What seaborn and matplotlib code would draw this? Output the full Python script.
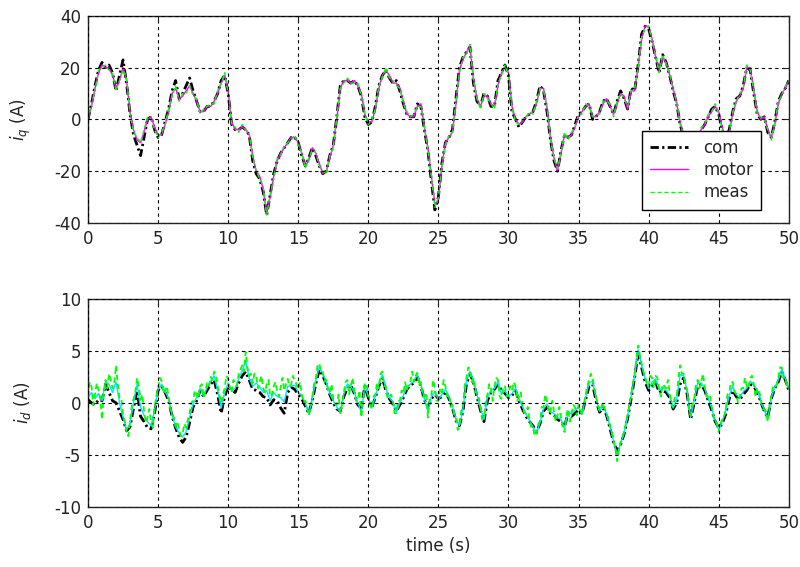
import numpy as np
import matplotlib
matplotlib.use("Agg")
import matplotlib.pyplot as plt
import seaborn as sns

# Sample times (s): 0.25 s for the controller signals, 0.125 s for the d-axis sensor
time = np.linspace(0.0, 50.0, 201)
time_fine = np.linspace(0.0, 50.0, 401)

# q-axis current (A): commanded, motor and measured
iq_com = [
    0, 6, 13, 19, 22, 20, 21, 18, 11, 17, 23, 14, 2, -6, -10, -14, -7, 0, 1, -4,
    -7, -6, -1, 4, 11, 15, 8, 10, 13, 16, 11, 7, 3, 3, 5, 5, 7, 10, 15, 17,
    10, -2, -4, -4, -3, -4, -6, -16, -21, -23, -28, -37, -29, -21, -16, -13, -11, -9, -7, -7,
    -9, -14, -18, -15, -11, -14, -18, -21, -20, -14, -10, 1, 13, 15, 15, 14, 15, 13, 9, 1,
    -2, -1, 5, 13, 17, 19, 16, 14, 15, 11, 6, 2, 1, 1, 6, 5, -4, -12, -24, -35,
    -30, -17, -9, -7, -4, 8, 20, 24, 26, 28, 14, 7, 5, 10, 9, 5, 5, 15, 18, 21,
    17, 3, 0, -3, -1, 1, 2, 3, 7, 13, 11, 3, -8, -16, -20, -12, -6, -7, -6, -2,
    2, 3, 5, 6, 0, 1, 3, 7, 8, 5, 2, 7, 11, 8, 4, 12, 11, 21, 33, 36,
    35, 30, 24, 18, 25, 22, 17, 11, 6, -2, -7, -11, -12, -10, -7, -4, -2, 1, 4, 5,
    2, -4, -8, -4, 3, 8, 9, 13, 20, 19, 10, 2, 0, 1, -5, -7, -1, 7, 10, 12,
    15,
]
iq_motor = [
    0, 5, 12, 18, 21, 20, 20, 17, 12, 15, 20, 15, 3, -4, -8, -9, -5, 0, 1, -3,
    -6, -6, -2, 3, 10, 12, 8, 9, 11, 13, 10, 7, 3, 3, 5, 5, 7, 10, 14, 17,
    11, -1, -4, -4, -3, -4, -6, -14, -20, -22, -27, -36, -30, -22, -16, -13, -11, -9, -7, -7,
    -9, -13, -18, -16, -11, -13, -17, -21, -20, -15, -10, 0, 12, 15, 15, 14, 15, 13, 10, 2,
    -1, -1, 4, 12, 17, 19, 17, 14, 14, 12, 7, 2, 1, 1, 5, 6, -3, -11, -22, -33,
    -31, -18, -9, -7, -5, 6, 19, 23, 26, 28, 16, 8, 5, 9, 9, 6, 5, 13, 18, 20,
    18, 5, 0, -2, -1, 1, 2, 3, 6, 12, 12, 4, -7, -15, -20, -13, -6, -7, -6, -3,
    1, 3, 5, 6, 1, 1, 3, 6, 8, 5, 2, 6, 10, 9, 4, 11, 11, 20, 31, 36,
    36, 31, 24, 19, 24, 22, 17, 12, 6, -1, -7, -11, -12, -10, -7, -4, -2, 1, 3, 5,
    3, -3, -8, -5, 2, 7, 9, 12, 20, 20, 11, 3, 0, 1, -4, -7, -2, 6, 10, 12,
    15,
]
iq_meas = [
    0, 6, 11, 19, 20, 21, 19, 18, 11, 15, 19, 16, 2, -5, -7, -9, -4, 1, 0, -4,
    -7, -5, -2, 4, 9, 13, 7, 10, 10, 13, 9, 8, 2, 4, 5, 6, 6, 11, 14, 18,
    10, -2, -3, -5, -2, -4, -5, -15, -20, -23, -26, -37, -29, -23, -15, -14, -10, -9, -8, -6,
    -10, -13, -19, -15, -12, -13, -18, -20, -21, -14, -11, 1, 12, 14, 16, 14, 14, 14, 9, 2,
    -2, 0, 4, 13, 16, 20, 16, 15, 13, 12, 6, 3, 1, 2, 5, 5, -3, -12, -22, -34,
    -30, -18, -10, -6, -5, 7, 18, 24, 25, 29, 15, 8, 4, 10, 8, 6, 4, 14, 17, 21,
    17, 4, -1, -2, 0, 1, 3, 2, 7, 12, 11, 5, -8, -15, -19, -13, -5, -8, -5, -3,
    2, 2, 6, 5, 1, 2, 2, 7, 7, 6, 1, 7, 10, 8, 5, 11, 12, 20, 32, 35,
    36, 30, 25, 18, 25, 21, 18, 11, 7, -2, -6, -12, -11, -10, -8, -3, -2, 2, 3, 6,
    2, -4, -7, -5, 3, 7, 10, 12, 21, 19, 11, 2, 1, 0, -4, -8, -1, 7, 9, 13,
    15,
]

# d-axis current (A): commanded and motor (0.25 s), measured (0.125 s)
id_com = [
    0.3, 0.0, -0.2, 0.3, 0.2, 1.8, 1.0, 0.2, 0.0, -0.8, -1.6, -2.7, -2.3, -0.5, 1.2, -1.3, -1.8, -2.4, -2.5, -1.0,
    1.2, 1.6, 1.0, 0.2, -1.3, -2.4, -3.3, -3.8, -3.3, -1.9, -0.4, 0.2, 1.2, 0.6, 1.2, 1.8, 2.2, 0.8, -1.0, 0.6,
    1.6, 1.2, 1.0, 1.9, 2.6, 3.0, 2.2, 1.3, 1.2, 1.0, 0.6, 0.5, -0.2, 0.3, 0.2, -0.5, -1.0, 1.0, 1.5, 1.3,
    0.8, 0.4, -0.3, -1.0, 0.2, 1.8, 3.2, 2.6, 1.8, 0.8, 0.0, -0.6, -0.8, 0.6, 1.4, 1.7, 0.9, -0.2, -0.5, 1.6,
    0.5, -0.4, 0.5, 1.6, 2.4, 1.2, 0.4, -0.1, -0.8, -0.2, 0.5, 1.3, 1.7, 1.9, 2.5, 1.6, 0.3, -0.4, 0.4, 0.8,
    0.4, 0.6, 1.1, 0.4, -0.5, -1.7, -2.2, -0.8, 1.8, 2.8, 2.0, 0.6, -0.7, -1.8, 0.2, 1.0, 1.3, 1.8, 1.2, 0.9,
    0.5, 0.7, 1.2, 0.2, -0.6, -1.3, -1.8, -2.2, -2.8, -2.0, -0.8, -0.4, -1.0, -1.2, -1.6, -1.8, -2.3, -1.0, -1.3, -1.0,
    -0.7, -1.0, 0.3, 1.6, 1.8, 0.2, -0.9, -0.5, -1.2, -2.5, -3.8, -4.6, -4.0, -3.0, -1.5, 0.4, 2.4, 4.8, 3.4, 2.0,
    1.2, 1.6, 2.0, 1.0, 1.2, 1.0, 0.5, -0.6, 0.0, 1.8, 2.4, 0.8, -1.6, 0.0, 1.6, 1.8, 1.2, 0.2, -0.7, -1.8,
    -2.4, -2.0, -1.1, 0.4, 1.2, 0.6, 0.3, 0.8, 1.2, 1.8, 1.6, 1.0, 0.1, -0.8, -1.4, 0.4, 1.4, 2.0, 3.0, 2.2,
    1.2,
]
id_motor = [
    0.5, 1.0, 0.4, 0.9, 0.2, 2.0, 1.8, 1.0, 2.0, 0.0, -1.4, -2.6, -2.0, 0.0, 1.8, -0.4, -1.2, -1.8, -2.2, -0.7,
    1.3, 1.8, 1.1, 0.4, -1.2, -2.3, -2.9, -3.3, -2.8, -1.4, -0.1, 0.5, 1.4, 0.6, 1.5, 2.1, 2.6, 1.2, -0.5, 1.0,
    1.9, 1.1, 1.4, 2.3, 3.1, 4.0, 2.4, 1.6, 1.9, 1.5, 1.0, 1.2, 0.2, 1.0, 0.6, 0.5, 0.1, 1.6, 1.6, 1.7,
    1.0, 0.7, 0.0, -1.1, 0.4, 2.1, 3.5, 2.8, 2.0, 0.9, 0.2, -0.4, -0.9, 0.8, 1.8, 1.6, 1.0, 0.0, -0.9, 1.7,
    0.6, -0.5, 0.6, 1.8, 2.7, 1.4, 0.5, 0.1, -0.9, 0.0, 0.7, 1.5, 1.8, 2.1, 2.7, 1.8, 0.4, -0.8, 0.6, 1.1,
    0.3, 0.8, 1.3, 0.6, -0.3, -1.5, -2.2, -0.6, 2.1, 3.0, 2.2, 0.8, -0.5, -1.6, 0.5, 1.2, 1.4, 2.0, 0.8, 1.2,
    0.6, 0.9, 1.4, 0.4, -0.4, -1.1, -1.7, -2.3, -2.9, -1.9, -0.6, -0.1, -0.9, -1.0, -1.4, -1.6, -2.5, -0.8, -1.1, -0.7,
    -0.4, -1.1, 0.5, 1.9, 2.1, 0.4, -0.8, -0.2, -1.1, -2.3, -3.7, -5.0, -3.9, -2.9, -1.3, 0.6, 2.6, 5.1, 3.6, 2.3,
    1.4, 2.0, 2.3, 1.2, 1.5, 1.2, 0.7, -0.5, 0.3, 2.7, 2.6, 1.0, -1.4, 0.2, 1.9, 1.9, 1.4, 0.4, -0.5, -1.7,
    -2.6, -1.8, -0.8, 0.7, 1.6, 0.8, 0.5, 1.1, 1.4, 2.1, 1.7, 1.2, 0.2, -0.7, -1.6, 0.5, 1.5, 2.2, 3.2, 2.3,
    1.4,
]
id_meas = [
    # 0 - 5 s
    0.6, 2.0, 1.6, -0.2, 0.8, 1.9, 1.2, 0.4, -1.6, 1.0,
    2.2, 1.4, 2.8, 2.2, 1.4, 2.0, 3.6, 1.8, 0.4, 0.4,
    -1.2, -1.8, -2.9, -3.2, -1.8, -0.2, 0.4, 1.0, 2.4, 1.6,
    0.3, 0.8, -0.8, -1.9, -1.4, -0.6, -1.9, -2.4, -0.4, 0.6,
    # 5 - 10 s
    1.4, 2.4, 2.1, 0.9, 1.2, 1.6, 0.6, -0.6, -1.0, -1.4,
    -2.2, -1.8, -2.6, -3.2, -3.0, -2.0, -2.4, -1.6, -1.0, 0.0,
    0.2, 1.2, 0.8, 0.4, 1.6, 1.8, 0.5, 1.2, 1.9, 1.6,
    2.5, 2.2, 3.0, 2.6, 1.6, 0.8, 0.0, 0.8, 1.4, 2.6,
    # 10 - 15 s
    2.3, 1.4, 1.0, 2.2, 1.8, 1.6, 2.8, 3.2, 3.6, 3.0,
    4.9, 3.4, 2.6, 2.8, 1.9, 2.8, 2.6, 1.4, 2.0, 2.6,
    1.4, 1.0, 1.8, 2.2, 0.6, 0.8, 1.6, 2.0, 1.0, 0.6,
    1.5, 2.4, 1.2, 1.8, 2.3, 1.6, 1.8, 2.6, 2.1, 1.8,
    # 15 - 20 s
    1.3, 2.0, 0.9, 0.0, 0.2, -0.2, -1.2, -0.6, 0.6, 1.8,
    2.4, 3.6, 3.8, 3.0, 3.0, 2.0, 2.2, 1.2, 1.0, 1.8,
    0.4, 0.0, -0.2, 0.8, -1.0, -0.2, 1.0, 2.0, 2.2, 0.8,
    1.6, 2.4, 1.2, 0.2, 0.2, 1.2, -1.4, 0.0, 1.9, 1.8,
    # 20 - 25 s
    0.8, -0.2, -0.6, 0.6, 0.8, 2.0, 1.4, 2.8, 3.0, 1.6,
    1.6, 0.4, 0.6, 0.8, 0.3, -1.0, -1.0, 0.2, 0.2, 1.2,
    0.9, 2.0, 1.2, 1.8, 2.0, 3.0, 2.0, 2.6, 2.9, 1.6,
    2.0, 0.6, 0.6, 1.0, -1.4, 0.4, 0.8, 2.2, 1.4, 0.2,
    # 25 - 30 s
    0.2, 1.4, 1.0, 2.2, 1.6, 0.6, 0.8, -0.4, -0.2, -1.2,
    -1.4, -2.6, -2.3, -0.8, -0.4, 1.6, 2.4, 3.4, 3.3, 2.0,
    2.4, 1.0, 1.0, 0.6, -0.4, -1.6, -1.4, 0.2, 0.8, 1.8,
    1.4, 0.2, 1.6, 2.4, 2.2, 0.6, 0.4, 1.6, 1.6, 0.6,
    # 30 - 35 s
    0.8, 1.6, 1.2, 2.0, 1.6, 0.2, 0.6, 1.0, -0.2, -1.0,
    -1.0, -0.4, -1.6, -2.4, -2.4, -3.2, -3.0, -2.0, -1.8, -0.4,
    -0.4, 0.8, 0.2, -1.0, -0.8, 0.2, -0.9, -1.8, -1.2, -0.4,
    -1.4, -2.4, -2.8, -1.2, -0.6, -1.8, -1.0, -0.2, -0.4, -1.2,
    # 35 - 40 s
    -0.2, -0.8, -1.2, -0.2, 0.8, 1.6, 2.2, 2.8, 2.4, 1.4,
    0.6, -0.2, -0.8, -0.4, 0.0, -0.6, -1.0, -1.6, -2.2, -2.8,
    -3.6, -4.4, -5.6, -4.6, -3.8, -3.4, -2.8, -2.0, -1.2, -0.2,
    0.8, 1.8, 2.8, 4.2, 5.5, 4.6, 3.8, 3.0, 2.6, 1.8,
    # 40 - 45 s
    1.6, 2.6, 2.4, 1.4, 2.6, 2.4, 1.4, 0.6, 1.8, 1.6,
    1.4, 2.2, 1.0, -0.2, -0.4, 0.6, 0.6, 2.4, 3.6, 2.8,
    2.8, 1.6, 1.2, -0.6, -1.2, 0.0, 0.4, 1.8, 2.2, 1.4,
    2.0, 2.8, 1.6, 0.6, 0.6, 0.8, -0.4, -1.4, -1.6, -2.0,
    # 45 - 50 s
    -2.8, -2.0, -1.6, -1.4, -0.6, 0.8, 1.0, 2.0, 2.0, 1.0,
    0.9, 0.0, 0.6, 1.4, 1.4, 2.4, 1.6, 1.4, 2.4, 2.6,
    1.8, 0.6, 1.4, 1.2, 0.4, -0.6, -0.6, -0.8, -1.8, -0.2,
    0.6, 1.6, 1.6, 1.6, 2.4, 3.4, 3.4, 2.4, 2.4, 1.4,
    1.6,
]

x_ticks = [0, 5, 10, 15, 20, 25, 30, 35, 40, 45, 50]
iq_ticks = [-40, -20, 0, 20, 40]
id_ticks = [-10, -5, 0, 5, 10]
series_names = ["com", "motor", "meas"]

sns.set_theme(style="white")
plt.rcParams["font.family"] = ["DejaVu Sans"]
plt.rcParams["mathtext.fontset"] = "dejavusans"

fig = plt.figure(figsize=(8.0, 5.67), dpi=100)
ax_q = fig.add_axes([0.110, 0.607, 0.876, 0.365])
ax_d = fig.add_axes([0.110, 0.106, 0.876, 0.367])

com_dash = (0, (3.0, 1.2, 0.8, 1.2))
meas_dash = (0, (3.0, 2.0))


def draw_panel(ax, t_meas, com, motor, meas, motor_color, meas_lw, names=None):
    labels = names if names else [None, None, None]
    sns.lineplot(x=time, y=com, ax=ax, color="black", lw=2.0,
                 linestyle=com_dash, label=labels[0], errorbar=None)
    sns.lineplot(x=time, y=motor, ax=ax, color=motor_color, lw=1.0,
                 linestyle="-", label=labels[1], errorbar=None)
    sns.lineplot(x=t_meas, y=meas, ax=ax, color="#00ff00", lw=meas_lw,
                 linestyle=meas_dash, label=labels[2], errorbar=None)


def style_axes(ax, yticks):
    ax.set_xlim(0, 50)
    ax.set_ylim(yticks[0], yticks[-1])
    ax.set_xticks(x_ticks)
    ax.set_yticks(yticks)
    ax.set_xticklabels([str(v) for v in x_ticks])
    ax.set_yticklabels([str(v) for v in yticks])
    ax.grid(True, color="black", linestyle=(0, (3, 3)), linewidth=0.8)
    ax.set_axisbelow(False)
    ax.tick_params(axis="both", direction="in", length=4, width=0.8,
                   labelsize=12, colors="#222222", top=True, right=True,
                   pad=5)
    for spine in ax.spines.values():
        spine.set_color("#222222")
        spine.set_linewidth(1.0)
    ax.set_xlabel("")


draw_panel(ax_q, time, iq_com, iq_motor, iq_meas, "#ff00ff", 1.0, series_names)
draw_panel(ax_d, time_fine, id_com, id_motor, id_meas, "#00e5ff", 1.3)
style_axes(ax_q, iq_ticks)
style_axes(ax_d, id_ticks)

ax_q.set_ylabel(r"$i_q$ (A)", fontsize=12, color="#222222")
ax_d.set_ylabel(r"$i_d$ (A)", fontsize=12, color="#222222")
ax_q.yaxis.set_label_coords(-0.078, 0.5)
ax_d.yaxis.set_label_coords(-0.078, 0.5)
ax_d.set_xlabel("time (s)", fontsize=12, color="#222222", labelpad=4)

leg = ax_q.legend(loc="lower right", bbox_to_anchor=(0.961, 0.063),
                  fontsize=12, frameon=True, fancybox=False, framealpha=1.0,
                  edgecolor="black", handlelength=2.3, handletextpad=0.9,
                  labelspacing=0.25, borderpad=0.5, borderaxespad=0.0)
leg.get_frame().set_linewidth(1.0)
leg.set_zorder(10)
if ax_d.get_legend() is not None:
    ax_d.get_legend().remove()

fig.savefig("out.png", dpi=100, facecolor="white")
